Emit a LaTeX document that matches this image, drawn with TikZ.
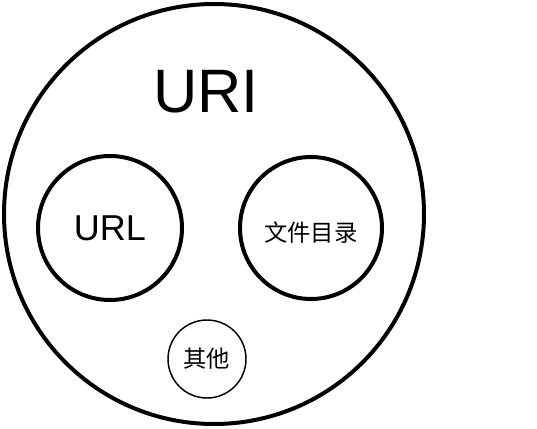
\documentclass[tikz,border=0pt]{standalone}
\usepackage{fontspec}
\setmainfont{Liberation Sans}
\newfontfamily\cjk{Noto Sans CJK SC}

\begin{document}
\begin{tikzpicture}[x=0.75pt,y=-0.75pt,
    ring/.style={circle, draw, line width=3pt, inner sep=0pt}]
    \useasboundingbox (0,0) rectangle (537,429);
    \node[ring, minimum size=315pt] at (214,214)  (U)   {};
    \node[anchor=base, font=\fontsize{46}{46}\selectfont] at (206,112) (URI) {URI};
    \node[ring, minimum size=108pt, font=\fontsize{27}{27}\selectfont] at (110,228) (URL) {URL};
    \node[ring, minimum size=106.5pt, text height=22pt, font=\cjk\fontsize{17.5}{17.5}\selectfont] at (311,228) (DIR) {文件目录};
    \node[ring, line width=1.1pt, minimum size=58.5pt, font=\cjk\fontsize{17.5}{17.5}\selectfont] at (207,359) (ETC) {其他};
\end{tikzpicture}
\end{document}
